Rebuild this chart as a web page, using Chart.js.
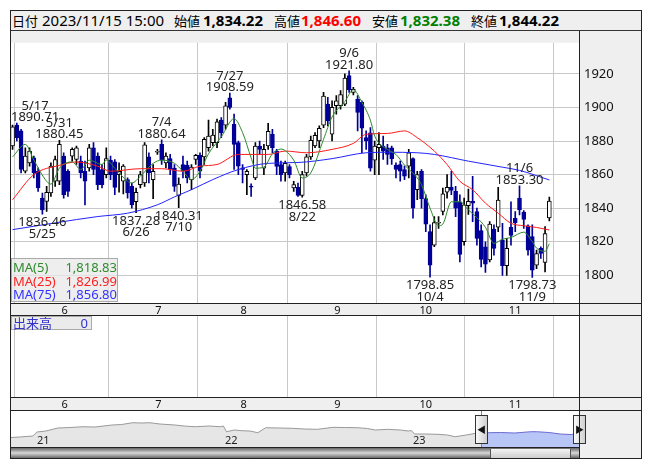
<!DOCTYPE html>
<html>
<head>
<meta charset="utf-8">
<script src="https://cdn.jsdelivr.net/npm/chart.js@4.4.0/dist/chart.umd.min.js"></script>
<style>
body{margin:0;background:#fff;width:653px;height:470px;overflow:hidden;font-family:"Noto Sans","Noto Sans CJK JP",sans-serif;color:#000}
.abs{position:absolute}
#hdr{left:10px;top:10px;width:632px;height:21px;background:#efefef;border:1px solid #333;box-sizing:border-box;font-size:15px;line-height:19px;white-space:nowrap}
#hdr span{position:absolute;top:0}
#hdr .jp{font-family:"Noto Sans CJK JP";font-size:13px}
#hdr .b{font-weight:bold}
canvas{position:absolute}
.ln{position:absolute;background:#222}
#legend{left:11px;top:258px;width:107px;height:44px;background:rgba(232,232,232,0.75);border:1px solid #aaa;box-sizing:border-box;font-size:13px}
#legend div{position:absolute;left:1px;width:104px;height:14px;line-height:14px}
#legend span{position:absolute}
#vlab{left:11px;top:316px;width:81px;height:14px;background:rgba(232,232,232,0.85);border:1px solid #aaa;box-sizing:border-box;font-size:13px;line-height:12px;color:#3333cc}
.handle{position:absolute;width:13px;height:29px;top:415px;border:1px solid #333;box-sizing:border-box;background:linear-gradient(to right,#fafafa,#cfcfcf);font-size:9px;line-height:27px;text-align:center;color:#111}
</style>
</head>
<body>
<div id="hdr" class="abs">
  <span class="jp" style="left:1px">日付</span>
  <span style="left:31px">2023/11/15 15:00</span>
  <span class="jp" style="left:163px">始値</span>
  <span class="b" style="left:192px">1,834.22</span>
  <span class="jp" style="left:263px">高値</span>
  <span class="b" style="left:290px;color:#ff0000">1,846.60</span>
  <span class="jp" style="left:361px">安値</span>
  <span class="b" style="left:389px;color:#008000">1,832.38</span>
  <span class="jp" style="left:460px">終値</span>
  <span class="b" style="left:488px">1,844.22</span>
</div>

<canvas id="price" width="632" height="284" style="left:10px;top:31px;background:#efefef"></canvas>
<canvas id="vol" width="632" height="95" style="left:10px;top:315px;background:#efefef"></canvas>
<canvas id="nav" width="569" height="38" style="left:10px;top:410px;background:#fff"></canvas>

<div id="legend" class="abs">
  <div style="top:1px"><span style="left:0;color:#2e8b2e">MA(5)</span><span style="right:0;color:#2e8b2e">1,818.83</span></div>
  <div style="top:15px"><span style="left:0;color:#ff2020">MA(25)</span><span style="right:0;color:#ff2020">1,826.99</span></div>
  <div style="top:28px"><span style="left:0;color:#3333ff">MA(75)</span><span style="right:0;color:#3333ff">1,856.80</span></div>
</div>
<div id="vlab" class="abs"><span style="position:absolute;left:1px;font-family:'Noto Sans CJK JP'">出来高</span><span style="position:absolute;right:3px">0</span></div>

<!-- navigator chrome -->
<div class="abs" style="left:579px;top:410px;width:62px;height:49px;background:#efefef"></div>
<div class="abs" style="left:10px;top:448px;width:569px;height:11px;background:linear-gradient(#666,#d8d8d8 45%,#555)"></div>
<div class="abs" style="left:490px;top:449px;width:81px;height:10px;background:linear-gradient(#f4f4f4,#c9c9c9);border-left:1px solid #555;border-right:1px solid #555;box-sizing:border-box"></div>
<div class="abs" style="left:481px;top:410px;width:1px;height:38px;background:#2aa0d8"></div>
<div class="abs" style="left:579px;top:410px;width:1px;height:38px;background:#2aa0d8"></div>
<div class="handle" style="left:475px">&#9664;</div>
<div class="handle" style="left:573px">&#9654;</div>

<!-- frame lines -->
<div class="ln" style="left:10px;top:10px;width:632px;height:1px"></div>
<div class="ln" style="left:10px;top:458px;width:632px;height:1px"></div>
<div class="ln" style="left:10px;top:10px;width:1px;height:449px"></div>
<div class="ln" style="left:641px;top:10px;width:1px;height:449px"></div>
<div class="ln" style="left:10px;top:303px;width:632px;height:1px"></div>
<div class="ln" style="left:10px;top:315px;width:632px;height:1px"></div>
<div class="ln" style="left:10px;top:397px;width:632px;height:1px"></div>
<div class="ln" style="left:10px;top:410px;width:632px;height:1px"></div>
<div class="ln" style="left:10px;top:447px;width:569px;height:1px"></div>
<div class="ln" style="left:579px;top:31px;width:1px;height:428px"></div>

<script>
// trading days shown (2023/5/16 - 2023/11/15)
const dates = [
  '5/16','5/17','5/18','5/19','5/22','5/23','5/24','5/25','5/26','5/29','5/30','5/31',
  '6/1','6/2','6/5','6/6','6/7','6/8','6/9','6/12','6/13','6/14','6/15','6/16','6/19','6/20','6/21','6/22','6/23','6/26','6/27','6/28','6/29','6/30',
  '7/3','7/4','7/5','7/6','7/7','7/10','7/11','7/12','7/13','7/14','7/18','7/19','7/20','7/21','7/24','7/25','7/26','7/27','7/28','7/31',
  '8/1','8/2','8/3','8/4','8/7','8/8','8/9','8/10','8/14','8/15','8/16','8/17','8/18','8/21','8/22','8/23','8/24','8/25','8/28','8/29','8/30','8/31',
  '9/1','9/4','9/5','9/6','9/7','9/8','9/11','9/12','9/13','9/14','9/15','9/19','9/20','9/21','9/22','9/25','9/26','9/27','9/28','9/29',
  '10/2','10/3','10/4','10/5','10/6','10/10','10/11','10/12','10/13','10/16','10/17','10/18','10/19','10/20','10/23','10/24','10/25','10/26','10/27','10/30','10/31',
  '11/1','11/2','11/6','11/7','11/8','11/9','11/10','11/13','11/14','11/15'
];

const opens = [
  1877,1889.5,1886,1862,1867,1870,1862,1846,1844,1849,1856,1856,1871,1862,1871,1869,1868,1862,1864,1876,1871,
  1863,1860,1868.6,1867.6,1860,1856,1857,1853,1843.8,1854,1855,1870.5,1857,1873.3,1878,1867,1869.5,1863.8,1847.6,1866,1865.7,
  1857,1869,1871.4,1870.5,1876,1879,1879,1892.4,1889.5,1905.7,1890,1879,1864,1860,1853,1858,1877,1863.8,1877,1884,1874,
  1866,1861,1864.8,1852,1852.4,1847.6,1861,1870.5,1877,1880,1889.5,1902,1884,1901,1901,1902,1919,1909,1905,1903,1882,1884.8,
  1868.6,1876,1877,1876,1876,1865.7,1866,1863,1865,1869.5,1851,1862,1845.7,1826,1818,1831,1838,1849.5,1852.4,1850,1843.8,
  1820,1841.5,1844,1838,1826.7,1817,1809.1,1827.6,1828.6,1821,1805.7,1828.6,1834,1846,1837.7,1829.5,1823,1806,1816,1807.6,1834.22
];
const highs = [
  1889.5,1890.71,1887,1876,1876,1871,1864,1849,1853,1867,1871,1880.45,1873,1863,1876,1877,1871,1868,1878,1879,1873,
  1866,1876,1871,1869,1867,1866,1858,1855,1852,1862,1879,1873,1866,1875,1880.64,1873,1872,1866,1858,1871,1868,
  1866,1872,1873,1882,1892.4,1887,1893,1894,1903,1908.59,1896,1880,1866,1863,1854.5,1879,1880,1878,1890.5,1887,1875,
  1868,1868,1866,1856,1855,1862,1872,1883,1885,1889,1909,1906,1904,1907,1910,1920,1921.8,1912,1907,1904,1886,1888,
  1880,1885,1883,1878,1877,1867,1868,1865,1875,1870,1862,1863,1848,1830,1835,1835,1852,1860,1862,1853,1848,
  1846,1851.4,1859,1840,1830,1820,1832,1830,1852.4,1831,1822,1843.8,1838,1853.3,1838.5,1830,1830,1815,1817,1829,1846.6
];
const lows = [
  1875,1880,1861,1861,1865,1858,1850,1836.46,1838,1847,1853,1854,1846,1847,1868,1866,1858,1842,1862,1860,1851,
  1852,1858,1857,1848,1849.5,1848.5,1846,1840,1837.28,1852,1853,1855,1845.7,1872,1866,1864,1860,1850,1840.31,1858,1855,
  1851,1866,1858,1866,1874,1877,1876,1882,1887,1899,1863,1860,1855,1848,1847,1857,1872,1860,1875,1873,1860,
  1856,1856,1858,1850,1847,1846.58,1859,1869,1876,1876,1888,1889,1880,1896,1899,1901,1909,1907.5,1886,1873,1875,1862,
  1860,1860,1869,1866,1866,1858,1856,1857,1858,1834,1845,1840,1826,1798.85,1817,1828,1836,1846,1848,1835,1808,
  1818,1836.2,1832,1818,1805,1801.7,1808,1812,1826,1800,1800,1818,1826,1836,1828,1812,1798.73,1804,1810,1802,1832.38
];
const closes = [
  1888.5,1882,1863,1871,1874,1861,1852,1839,1849.5,1865,1869,1878,1848,1850,1875,1876,1861,1856,1876,1863,1854,
  1854,1869.5,1860,1852.4,1862,1865,1849,1842,1849.5,1860,1877.7,1861,1862,1873.5,1868.6,1871,1863,1853,1854.3,1862,1858,
  1864.4,1871.4,1862,1881,1883,1883.5,1891.4,1884.8,1901,1900,1878,1865,1863,1862,1852.5,1877,1875,1875,1885.7,1876,1864.8,
  1860,1866.7,1860,1854,1847.6,1860,1870.5,1880.4,1883.4,1887.6,1906.7,1892,1900,1904,1907.6,1917.5,1910.5,1910.8,1897,1887.6,1880,1863.8,
  1877,1878,1874,1872,1869.5,1863,1862,1859,1873,1840,1860,1845.7,1830.5,1806,1831.4,1831.5,1848.6,1852.4,1850.5,1840,1812.4,
  1842,1844,1843,1822,1809.5,1806.7,1830.5,1816,1844.8,1805.7,1816,1823.8,1831.4,1839,1833.3,1815,1803,1813,1813,1824.8,1844.22
];

// moving averages: [day index, value]
const ma5 = [
  [0,1870.5],[3,1878],[5,1868.6],[8,1856],[9,1854.3],[11,1863.8],[14,1867.6],[16,1863],[18,1868.6],[21,1866],[22,1868.6],
  [24,1863.8],[27,1856],[28,1855],[30,1859],[33,1866.7],[35,1868.6],[38,1866.7],[40,1862],[42,1857],[44,1862],[46,1872.4],
  [49,1882.5],[52,1893.3],[54,1885],[56,1870],[57,1863.8],[59,1864.5],[61,1872.4],[63,1875.2],[64,1874.3],[66,1868.6],
  [68,1858],[70,1861],[73,1881],[75,1894.3],[78,1903.5],[80,1910.5],[82,1903],[84,1892.4],[85,1883],[88,1875],[90,1872],
  [92,1865.7],[95,1858],[96,1854],[98,1840],[100,1829.5],[101,1830.5],[103,1843.8],[105,1843.8],[107,1839],[109,1834.3],
  [111,1828.6],[113,1819],[115,1821.5],[117,1822.5],[120,1825.7],[122,1820],[123,1816.2],[125,1814.3],[126,1818.83]
];
const ma25 = [
  [0,1845],[5,1860],[11,1865.5],[15,1867.5],[20,1865],[23,1862],[30,1863.5],[35,1863.5],[40,1862],[44,1865],[48,1866],
  [53,1872],[60,1872],[64,1874],[69,1873],[75,1875],[80,1878.6],[83,1884],[88,1884.5],[92,1886],[95,1882],[99,1874],
  [102,1866],[105,1856],[108,1851],[111,1843],[114,1837],[117,1831],[120,1829.5],[123,1828.5],[126,1826.99]
];
const ma75 = [
  [0,1827.2],[20,1835],[27,1837],[34,1842],[38,1846.7],[42,1851],[47,1857],[53,1863],[60,1866.7],[67,1867.2],
  [75,1869.5],[83,1873],[88,1873.3],[95,1873],[99,1872],[107,1868],[115,1864.4],[119,1862.5],[126,1856.8]
];

// swing highs / lows that carry a date + price label
const marks = [[1,'high'],[7,'low'],[11,'high'],[29,'low'],[35,'high'],[39,'low'],[51,'high'],[68,'low'],[79,'high'],[98,'low'],[119,'high'],[122,'low']];

// month boundaries (between day indices) and their labels
const monthTicks = [11.5, 33.5, 53.5, 75.5, 95.5, 116.5];
const monthLabels = ['6','7','8','9','10','11'];
const priceTicks = [1800, 1820, 1840, 1860, 1880, 1900, 1920];

// navigator: months since 2021/1 and index level
const navMonths = [-1.7,-1.1,-0.26,0,0.57,1.34,2.1,2.94,3.7,4.8,5.4,6.1,6.7,7.2,7.85,8.8,9.4,10.1,11,11.7,11.9,12.1,12.6,13.1,13.6,14.1,14.6,15.5,16.3,17.1,17.9,18.9,19.7,20.5,21.1,21.6,22.4,23.2,23.7,23.9,24.1,24.8,25.6,26.2,26.7,27.4,28,28.4];
const navValues = [1727,1740,1765,1865,1890,1965,1977,1997,1990,2040,2052,2097,2090,2097,2065,2040,2015,1997,2015,1997,2015,1872,1915,1897,1890,1847,1972,1965,1957,1940,1932,1982,1977,1972,1952,1915,1932,1915,1890,1902,1815,1815,1807,1790,1747,1790,1832,1847];
const selMonths = [28.4,28.8,29.6,30.5,31.5,31.9,32.7,33.4,34.1,34.6];
const selValues = [1847,1847,1852,1840,1872,1872,1852,1815,1802,1840];
const yearTicks = [0, 12, 24];
const yearLabels = ['21','22','23'];

Chart.defaults.font.family = '"Noto Sans", sans-serif';
Chart.defaults.color = '#111';

const navy = '#000099';
const up = closes.map((c, i) => c >= opens[i]);

const plotBg = {
  id: 'plotBg',
  beforeDraw(chart) {
    const {ctx, chartArea: a} = chart;
    ctx.save();
    ctx.fillStyle = '#fff';
    ctx.fillRect(a.left, a.top, a.right - a.left, a.bottom - a.top);
    ctx.restore();
  }
};

const markLabels = {
  id: 'markLabels',
  afterDatasetsDraw(chart) {
    const {ctx, chartArea: a} = chart;
    const x = chart.scales.x, y = chart.scales.y;
    ctx.save();
    ctx.font = '13px "Noto Sans"';
    ctx.fillStyle = '#222';
    ctx.textAlign = 'center';
    marks.forEach(([i, kind]) => {
      const v = kind === 'high' ? highs[i] : lows[i];
      const txt = v.toFixed(2);
      const w = Math.max(ctx.measureText(txt).width, ctx.measureText(dates[i]).width);
      let px = x.getPixelForValue(i);
      px = Math.min(Math.max(px, a.left + w / 2 + 1), a.right - w / 2 - 1);
      const py = y.getPixelForValue(v);
      if (kind === 'high') {
        ctx.fillText(txt, px, py - 2);
        ctx.fillText(dates[i], px, py - 13.5);
      } else {
        ctx.fillText(txt, px, py + 12);
        ctx.fillText(dates[i], px, py + 23.5);
      }
    });
    ctx.restore();
  }
};

const xMin = -0.6, xMax = 133.2;

function monthAxis(h) {
  return {
    type: 'linear', min: xMin, max: xMax, offset: false,
    afterBuildTicks: s => { s.ticks = monthTicks.map(v => ({value: v})); },
    afterFit: s => { s.height = h; },
    ticks: {
      align: 'start', padding: 1, maxRotation: 0, autoSkip: false,
      font: {size: 11}, color: '#111',
      callback: (v, k) => monthLabels[k]
    },
    grid: {color: '#c8c8c8', drawTicks: false},
    border: {display: false}
  };
}

new Chart(document.getElementById('price'), {
  type: 'bar',
  data: {
    datasets: [
      {
        type: 'line', label: 'MA(5)', data: ma5.map(([x, y]) => ({x, y})),
        borderColor: '#2e8b2e', borderWidth: 1, pointRadius: 0, cubicInterpolationMode: 'monotone', order: 0
      },
      {
        type: 'line', label: 'MA(25)', data: ma25.map(([x, y]) => ({x, y})),
        borderColor: '#ff1a1a', borderWidth: 1, pointRadius: 0, cubicInterpolationMode: 'monotone', order: 0
      },
      {
        type: 'line', label: 'MA(75)', data: ma75.map(([x, y]) => ({x, y})),
        borderColor: '#2323ff', borderWidth: 1, pointRadius: 0, cubicInterpolationMode: 'monotone', order: 0
      },
      {
        label: 'body', data: dates.map((d, i) => ({x: i, y: [opens[i], closes[i]]})),
        backgroundColor: up.map(u => u ? '#fff' : navy),
        borderColor: up.map(u => u ? '#000' : navy),
        borderWidth: 1, borderSkipped: false, barThickness: 4, minBarLength: 1, grouped: false, order: 1
      },
      {
        label: 'wick', data: dates.map((d, i) => ({x: i, y: [lows[i], highs[i]]})),
        backgroundColor: up.map(u => u ? '#000' : navy),
        barThickness: 1, grouped: false, order: 2
      }
    ]
  },
  options: {
    responsive: false, animation: false, events: [],
    layout: {padding: 0, autoPadding: false},
    plugins: {legend: {display: false}, tooltip: {enabled: false}},
    scales: {
      x: monthAxis(12),
      y: {
        position: 'right', min: 1783.5, max: 1938.5,
        afterFit: s => { s.width = 62; },
        afterBuildTicks: s => { s.ticks = priceTicks.map(v => ({value: v})); },
        ticks: {padding: 4, font: {size: 13}, color: '#111', callback: v => String(v)},
        grid: {color: '#c8c8c8', drawTicks: false},
        border: {display: false}
      }
    }
  },
  plugins: [plotBg, markLabels]
});

new Chart(document.getElementById('vol'), {
  type: 'bar',
  data: {datasets: []},
  options: {
    responsive: false, animation: false, events: [],
    layout: {padding: 0, autoPadding: false},
    plugins: {legend: {display: false}, tooltip: {enabled: false}},
    scales: {
      x: monthAxis(13),
      y: {
        position: 'right', min: 0, max: 1,
        afterFit: s => { s.width = 62; },
        ticks: {display: false},
        grid: {display: false},
        border: {display: false}
      }
    }
  },
  plugins: [plotBg]
});

const yearText = {
  id: 'yearText',
  afterDatasetsDraw(chart) {
    const {ctx} = chart;
    const x = chart.scales.x;
    ctx.save();
    ctx.font = '11px "Noto Sans"';
    ctx.fillStyle = '#222';
    yearTicks.forEach((m, k) => ctx.fillText(yearLabels[k], x.getPixelForValue(m), 34));
    ctx.restore();
  }
};

new Chart(document.getElementById('nav'), {
  type: 'line',
  data: {
    datasets: [
      {
        data: navMonths.map((m, k) => ({x: m, y: navValues[k]})),
        borderColor: '#999', backgroundColor: '#e6e6e6', borderWidth: 1,
        pointRadius: 0, fill: 'start', tension: 0
      },
      {
        data: selMonths.map((m, k) => ({x: m, y: selValues[k]})),
        borderColor: '#6a6ad0', backgroundColor: '#b7c6f7', borderWidth: 1,
        pointRadius: 0, fill: 'start', tension: 0
      }
    ]
  },
  options: {
    responsive: false, animation: false, events: [],
    layout: {padding: 0, autoPadding: false},
    plugins: {legend: {display: false}, tooltip: {enabled: false}},
    scales: {
      x: {type: 'linear', display: false, min: -1.72, max: 34.6},
      y: {display: false, min: 1465, max: 2415}
    }
  },
  plugins: [yearText]
});
</script>
</body>
</html>
